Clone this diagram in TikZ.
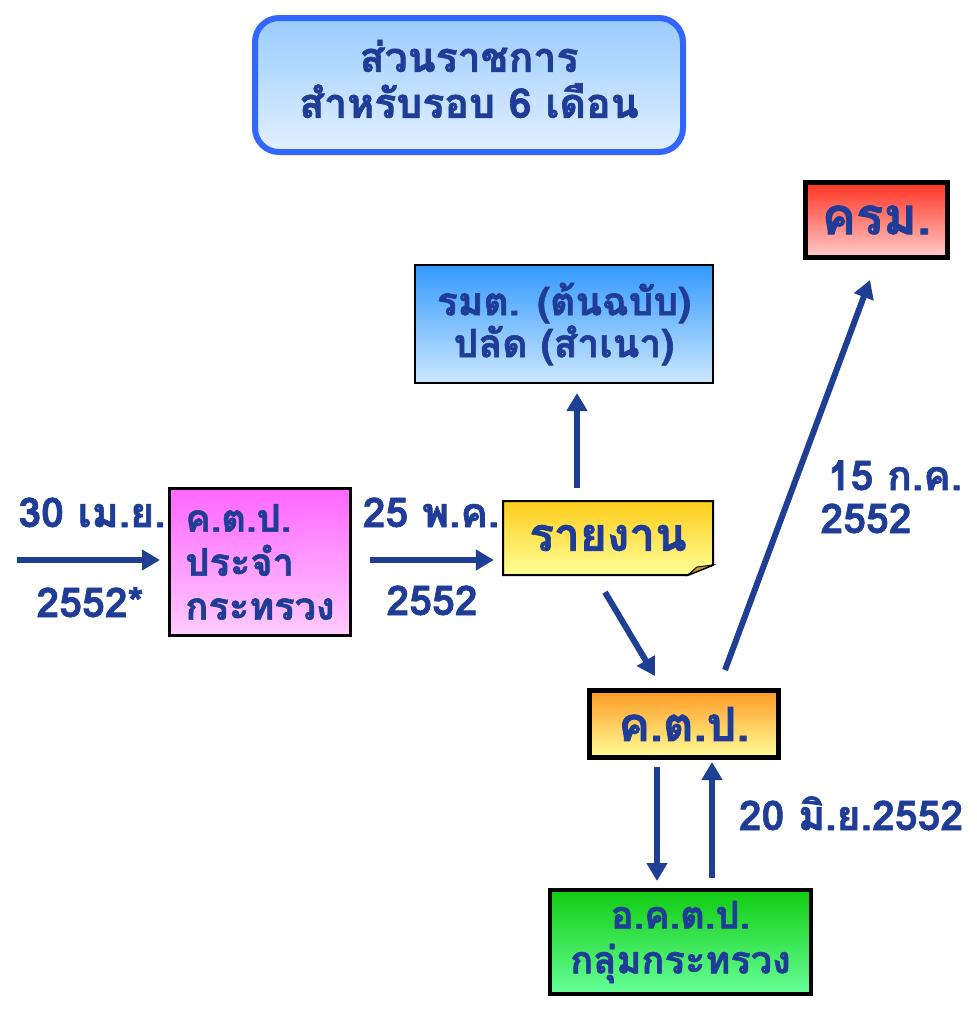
\documentclass[tikz,border=0pt]{standalone}
\usepackage{fontspec}
\setmainfont{Loma}[Script=Thai, BoldFeatures={FakeBold=1.5}]
\usetikzlibrary{arrows.meta,calc}
\definecolor{tblue}{HTML}{1F3C96}
\definecolor{arrblue}{HTML}{1F3F94}
\definecolor{frameblue}{HTML}{3366FF}
\definecolor{titletop}{HTML}{99CCFF}
\definecolor{titlebot}{HTML}{E3F0FF}
\definecolor{krmtop}{HTML}{FF3322}
\definecolor{krmbot}{HTML}{FFCCCC}
\definecolor{rmttop}{HTML}{3399FF}
\definecolor{rmtbot}{HTML}{CCE8FF}
\definecolor{mpcttop}{HTML}{FF66FF}
\definecolor{mpctbot}{HTML}{FFCCFF}
\definecolor{reptop}{HTML}{FFCC1A}
\definecolor{repbot}{HTML}{FFFF99}
\definecolor{repfold}{HTML}{D6A017}
\definecolor{ctptop}{HTML}{FF9922}
\definecolor{ctpbot}{HTML}{FFFF99}
\definecolor{grtop}{HTML}{11CC11}
\definecolor{grbot}{HTML}{66FF99}
\tikzset{
  box/.style={draw=black, text=tblue, align=center, inner sep=0pt, font=\bfseries\fontsize{38}{44}\selectfont},
  lbl/.style={text=tblue, inner sep=0pt, anchor=base, font=\bfseries\fontsize{41}{44}\selectfont},
  arr/.style={draw=arrblue, line width=6pt, -{Triangle[length=18pt,width=20pt]}},
}
\newcommand{\liftline}[1]{\raisebox{6pt}[\height][\depth]{#1}}
\begin{document}
\begin{tikzpicture}[x=1pt,y=-1pt]
\useasboundingbox (0,0) rectangle (977,1012);
% title
\node[box, draw=frameblue, line width=6pt, rounded corners=24pt, minimum width=428pt, minimum height=134pt,
  top color=titletop, bottom color=titlebot, font=\bfseries\fontsize{41}{46}\selectfont] (title) at (469,85) {\liftline{ส่วนราชการ}\\\liftline{สำหรับรอบ 6 เดือน}};
% cabinet
\node[box, line width=5pt, minimum width=142pt, minimum height=75pt, top color=krmtop, bottom color=krmbot,
  font=\bfseries\fontsize{51}{55}\selectfont] (krm) at (876.5,220) {ครม.};
% minister
\node[box, line width=2pt, minimum width=298pt, minimum height=118pt, top color=rmttop, bottom color=rmtbot,
  font=\bfseries\fontsize{39}{42}\selectfont] (rmt) at (564,324) {รมต. (ต้นฉบับ)\\ปลัด (สำเนา)};
% ministry committee
\node[box, line width=3pt, minimum width=181pt, minimum height=147pt, align=left, top color=mpcttop, bottom color=mpctbot] (mpct) at (260,562) {ค.ต.ป.\\ประจำ\\กระทรวง};
% report (note shape)
\shade[top color=reptop, bottom color=repbot, draw=black, line width=2pt]
  (503,501) -- (713,501) -- (713,565) -- (688,575) -- (503,575) -- cycle;
\fill[repfold, draw=black, line width=1pt] (688,575) -- (697,567) -- (713,565) -- cycle;
\node[box, draw=none, minimum width=210pt, minimum height=74pt, font=\bfseries\fontsize{46}{50}\selectfont] (report) at (608,538) {รายงาน};
% ctp
\node[box, line width=5pt, minimum width=189pt, minimum height=67pt, top color=ctptop, bottom color=ctpbot,
  font=\bfseries\fontsize{47}{50}\selectfont] (kctp) at (684,724) {ค.ต.ป.};
% sub-committee
\node[box, line width=4pt, minimum width=261pt, minimum height=104pt, top color=grtop, bottom color=grbot,
  font=\bfseries\fontsize{38}{45}\selectfont] (okctp) at (680.5,942) {อ.ค.ต.ป.\\กลุ่มกระทรวง};
% labels
\node[lbl] (l30) at (92,527) {30 เม.ย.};
\node[lbl] (l30y) at (90,617) {2552*};
\node[lbl] (l25) at (431,527) {25 พ.ค.};
\node[lbl] (l25y) at (432,615) {2552};
\node[lbl] (l15) at (895,490) {15 ก.ค.};
\node[lbl] (l15y) at (866,533) {2552};
\node[lbl] (l20) at (851,830) {20 มิ.ย.2552};
% arrows
\coordinate (c0) at (17,560);
\draw[arr] (c0) -- ([xshift=-8pt]c0 -| mpct.west);
\draw[arr, shorten <=18pt, shorten >=9pt] ([yshift=2pt]mpct.east) -- ([yshift=2pt]mpct.east -| report.west);
\draw[arr] ([xshift=-31pt,yshift=13pt]report.north) -- ([xshift=13pt,yshift=-9pt]rmt.south);
\draw[arr] ([xshift=-3pt,yshift=-17pt]report.south) -- ([xshift=-29pt,yshift=12pt]kctp.north);
\draw[arr] ([xshift=41pt,yshift=18pt]kctp.north) -- ([xshift=-6.5pt,yshift=-20pt]krm.south);
\draw[arr] ([xshift=-27pt,yshift=-7pt]kctp.south) -- ([xshift=-23.5pt,yshift=7pt]okctp.north);
\draw[arr] ([xshift=31.5pt,yshift=10pt]okctp.north) -- ([xshift=28pt,yshift=-2pt]kctp.south);
\end{tikzpicture}
\end{document}
